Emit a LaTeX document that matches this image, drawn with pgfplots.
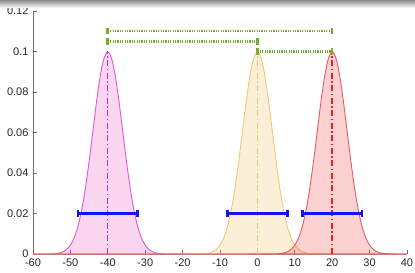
\documentclass[border=0pt]{standalone}
\usepackage{pgfplots}
\pgfplotsset{compat=1.18}
\usepackage{pgfplotstable}
\usepackage{fontspec}
\setmainfont{Liberation Sans}
\definecolor{pinkbase}{RGB}{232,50,185}
\definecolor{pinkedge}{RGB}{222,90,205}
\definecolor{pinkdash}{RGB}{232,30,190}
\definecolor{orbase}{RGB}{237,177,60}
\definecolor{oredge}{RGB}{240,200,120}
\definecolor{ordash}{RGB}{240,195,120}
\definecolor{redbase}{RGB}{235,40,40}
\definecolor{rededge}{RGB}{225,95,95}
\definecolor{reddash}{RGB}{240,30,30}
\definecolor{mgreen}{RGB}{119,172,48}
\definecolor{mblue}{RGB}{20,20,240}
\definecolor{axgray}{RGB}{110,110,110}
\definecolor{txt}{RGB}{38,38,38}

\pgfplotstableread{
xa xb xc y
-60 -60 -60 0
-56 -16 4 0.00003
-55 -15 5 0.00009
-54 -14 6 0.00022
-53 -13 7 0.00051
-52 -12 8 0.00111
-51 -11 9 0.00227
-50 -10 10 0.00438
-49 -9 11 0.00794
-48 -8 12 0.01350
-47 -7 13 0.02157
-46 -6 14 0.03238
-45 -5 15 0.04566
-44 -4 16 0.06049
-43 -3 17 0.07529
-42 -2 18 0.08802
-41 -1 19 0.09667
-40 0 20 0.09974
-39 1 21 0.09667
-38 2 22 0.08802
-37 3 23 0.07529
-36 4 24 0.06049
-35 5 25 0.04566
-34 6 26 0.03238
-33 7 27 0.02157
-32 8 28 0.01350
-31 9 29 0.00794
-30 10 30 0.00438
-29 11 31 0.00227
-28 12 32 0.00111
-27 13 33 0.00051
-26 14 34 0.00022
-25 15 35 0.00009
-24 16 36 0.00003
40 40 40 0
}\gauss

\begin{document}
\begin{tikzpicture}
\begin{axis}[
  at={(0,0)}, anchor=south west,
  scale only axis, width=374pt, height=243pt,
  xmin=-60, xmax=40, ymin=0, ymax=0.12,
  xtick={-60,-50,-40,-30,-20,-10,0,10,20,30,40},
  xticklabels={-60,-50,-40,-30,-20,-10,0,10,20,30,40},
  ytick={0,0.02,0.04,0.06,0.08,0.1,0.12},
  yticklabels={0,0.02,0.04,0.06,0.08,0.1,0.12},
  axis x line*=bottom, axis y line*=left,
  tick align=inside, major tick length=4pt,
  axis line style={color=axgray, line width=0.7pt},
  tick style={color=axgray, line width=0.7pt},
  ticklabel style={font=\fontsize{11}{13}\selectfont, color=txt},
  xticklabel style={yshift=-1.5pt},
  yticklabel style={xshift=-1pt},
  clip=false,
]
\addplot[smooth, draw=pinkedge, line width=0.9pt, fill=pinkbase, fill opacity=0.2, draw opacity=1] table[x=xa, y=y]{\gauss} \closedcycle;
\addplot[smooth, draw=oredge, line width=0.9pt, fill=orbase, fill opacity=0.2, draw opacity=1] table[x=xb, y=y]{\gauss} \closedcycle;
\addplot[smooth, draw=rededge, line width=0.9pt, fill=redbase, fill opacity=0.22, draw opacity=1] table[x=xc, y=y]{\gauss} \closedcycle;

\addplot[pinkdash, line width=1.4pt, dash pattern=on 6pt off 2.5pt on 1.5pt off 2.5pt] coordinates {(-40,0) (-40,0.1)};
\addplot[ordash, line width=1.4pt, dash pattern=on 6pt off 2.5pt on 1.5pt off 2.5pt] coordinates {(0,0) (0,0.1)};
\addplot[reddash, line width=1.4pt, dash pattern=on 6pt off 2.5pt on 1.5pt off 2.5pt] coordinates {(20,0) (20,0.1)};

\addplot[draw=mblue, line width=2.6pt, mark=|, mark size=3.6pt, mark options={solid, draw=mblue, line width=2.6pt}] coordinates {(-48,0.02) (-32,0.02)};
\addplot[draw=mblue, line width=2.6pt, mark=|, mark size=3.6pt, mark options={solid, draw=mblue, line width=2.6pt}] coordinates {(-8,0.02) (8,0.02)};
\addplot[draw=mblue, line width=2.6pt, mark=|, mark size=3.6pt, mark options={solid, draw=mblue, line width=2.6pt}] coordinates {(12,0.02) (28,0.02)};

\addplot[draw=mgreen, line width=2.4pt, dash pattern=on 1.2pt off 1.2pt, mark=|, mark size=3.2pt, mark options={solid, draw=mgreen, line width=2.6pt}] coordinates {(-40,0.11) (20,0.11)};
\addplot[draw=mgreen, line width=2.4pt, dash pattern=on 1.2pt off 1.2pt, mark=|, mark size=3.2pt, mark options={solid, draw=mgreen, line width=2.6pt}] coordinates {(-40,0.105) (0,0.105)};
\addplot[draw=mgreen, line width=2.4pt, dash pattern=on 1.2pt off 1.2pt, mark=|, mark size=3.2pt, mark options={solid, draw=mgreen, line width=2.6pt}] coordinates {(0,0.1) (20,0.1)};
\end{axis}
\pgfresetboundingbox
\path (-33pt,-19pt) rectangle (382pt,254pt);
\fill[top color=black!45, bottom color=white] (-33pt,246pt) rectangle (382pt,254pt);
\end{tikzpicture}
\end{document}
